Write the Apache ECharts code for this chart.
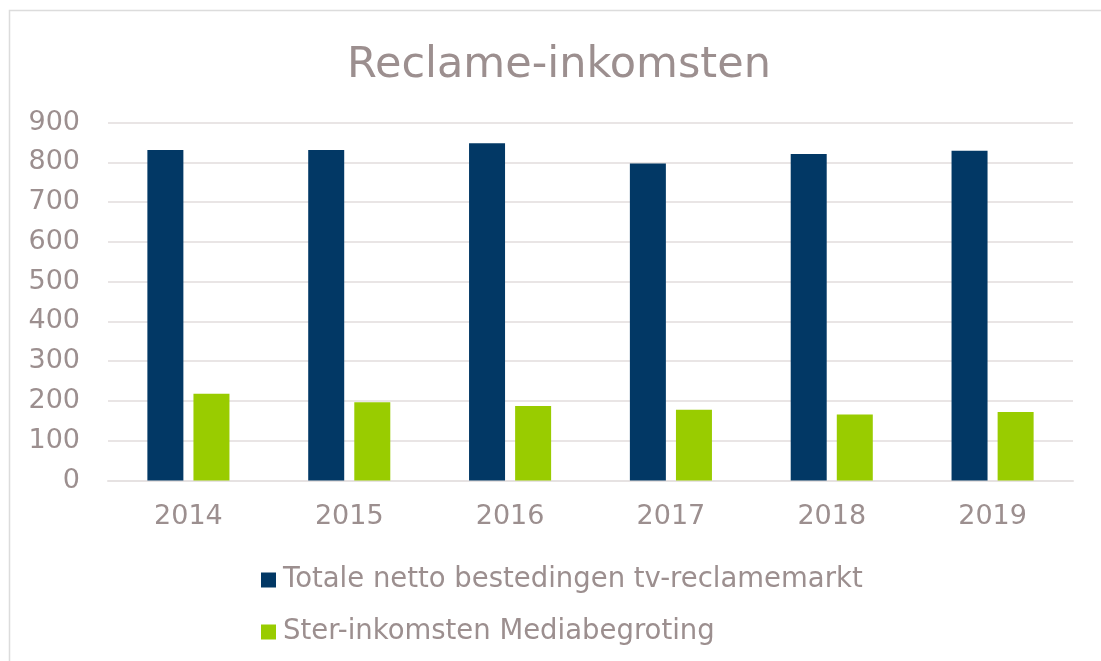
<!DOCTYPE html>
<html>
<head>
<meta charset="utf-8">
<script src="https://cdn.jsdelivr.net/npm/echarts@6/dist/echarts.min.js"></script>
<style>
html,body{margin:0;padding:0;background:#fff;}
#c{width:1101px;height:661px;}
</style>
</head>
<body>
<div id="c"></div>
<script>
const categories = ['2014', '2015', '2016', '2017', '2018', '2019'];
const totaleNetto = [831, 831, 848, 797, 821, 829];
const sterInkomsten = [218, 197, 187, 178, 166, 172];
const seriesNames = ['Totale netto bestedingen tv-reclamemarkt', 'Ster-inkomsten Mediabegroting'];
const yTicks = [0, 100, 200, 300, 400, 500, 600, 700, 800, 900];

const textColor = '#9c8f8f';
const font = 'DejaVu Sans';
const chart = echarts.init(document.getElementById('c'), null, {renderer: 'canvas'});
chart.setOption({
  animation: false,
  backgroundColor: '#fff',
  graphic: [{
    type: 'rect',
    shape: {x: 9.5, y: 10.5, width: 1200, height: 700},
    style: {fill: 'none', stroke: '#dcdcdc', lineWidth: 1.5},
    silent: true, z: -1
  }],
  title: {
    text: 'Reclame-inkomsten',
    left: 342, top: 39,
    textStyle: {color: textColor, fontFamily: font, fontSize: 43, fontWeight: 'normal'}
  },
  legend: {
    orient: 'vertical',
    left: 256, top: 560,
    itemWidth: 15, itemHeight: 15, itemGap: 22,
    icon: 'rect',
    textStyle: {color: textColor, fontFamily: font, fontSize: 27.5, lineHeight: 30, padding: [0, 0, 0, 2]},
    data: seriesNames
  },
  grid: {left: 108, right: 28, top: 122.5, bottom: 180.5, containLabel: false},
  xAxis: {
    type: 'category',
    data: categories,
    axisTick: {show: false},
    axisLine: {lineStyle: {color: '#e6e2e2', width: 2}},
    axisLabel: {color: textColor, fontFamily: font, fontSize: 27, margin: 23}
  },
  yAxis: {
    type: 'value',
    min: yTicks[0], max: yTicks[yTicks.length - 1], interval: 100,
    axisLine: {show: false},
    axisTick: {show: false},
    splitLine: {lineStyle: {color: '#e9e5e5', width: 2}},
    axisLabel: {color: textColor, fontFamily: font, fontSize: 27, margin: 28}
  },
  series: [
    {name: seriesNames[0], type: 'bar', data: totaleNetto, barWidth: 36, barGap: '28%',
     itemStyle: {color: '#023865'}},
    {name: seriesNames[1], type: 'bar', data: sterInkomsten, barWidth: 36,
     itemStyle: {color: '#99cc00'}}
  ]
});
</script>
</body>
</html>
